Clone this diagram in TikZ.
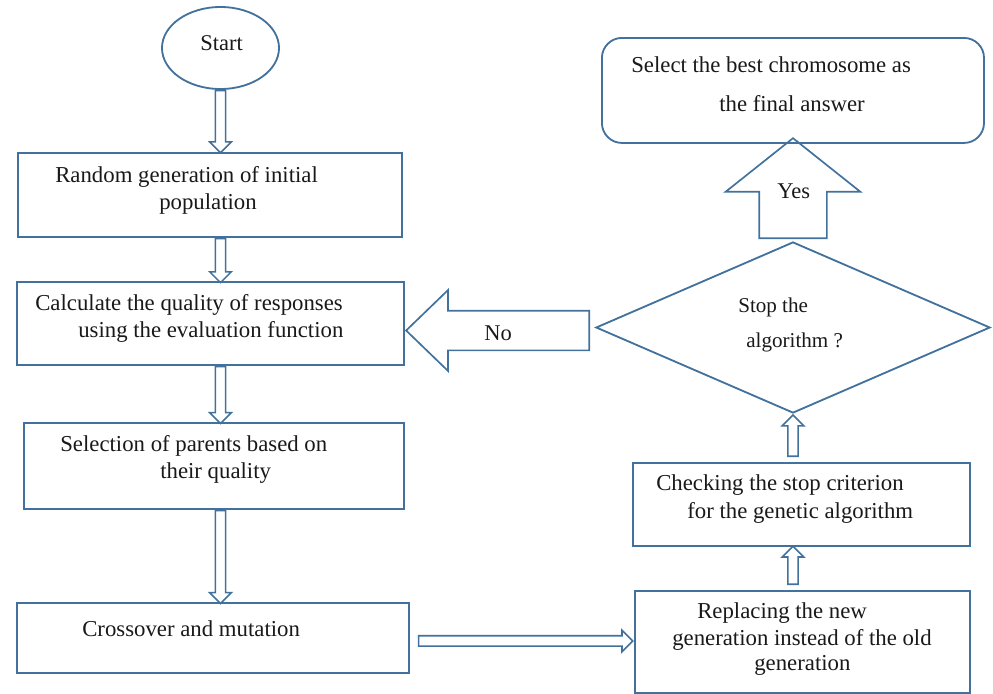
\documentclass[tikz,border=0pt]{standalone}
\usepackage{fontspec}
\setmainfont{Liberation Serif}
\usetikzlibrary{shapes.geometric,shapes.arrows,calc}
\definecolor{flow}{RGB}{65,113,156}
\tikzset{
	box/.style={draw=flow, line width=1.3pt, rectangle, inner sep=0pt, anchor=north west},
	txt/.style={anchor=base west, inner sep=0pt, text=black!90, font=\fontsize{16.2}{19}\selectfont},
	thinarr/.style={single arrow, draw=flow, line width=1.1pt, inner xsep=0pt, inner ysep=0.11cm, minimum width=0.5cm, single arrow head extend=0.14cm, anchor=tail},
	bigarr/.style={single arrow, draw=flow, line width=1.2pt, inner xsep=0pt, anchor=tail},
}
\begin{document}
\begin{tikzpicture}[x=0.025cm, y=-0.025cm]
		\useasboundingbox (0,0) rectangle (993,693);
		% left column
		\node[draw=flow, line width=1.3pt, ellipse, minimum width=2.925cm, minimum height=2.05cm, inner sep=0pt] (start) at (220.5,48) {};
		\node[box, minimum width=9.6cm, minimum height=2.1cm] (b1) at (17,152) {};
		\node[box, minimum width=9.675cm, minimum height=2.075cm] (b2) at (16,281) {};
		\node[box, minimum width=9.5cm, minimum height=2.15cm] (b3) at (23,422) {};
		\node[box, minimum width=9.8cm, minimum height=1.75cm] (b4) at (16,602) {};
		% right column
		\node[box, minimum width=8.375cm, minimum height=2.55cm] (b5) at (634,590) {};
		\node[box, minimum width=8.425cm, minimum height=2.075cm] (b6) at (632,462) {};
		\node[draw=flow, line width=1.3pt, diamond, minimum width=9.85cm, minimum height=4.275cm, inner sep=0pt] (stop) at (793,327.5) {};
		\node[box, rounded corners=0.5cm, minimum width=9.55cm, minimum height=2.625cm] (final) at (601,37) {};
		
		\node[txt, font=\fontsize{16}{19}\selectfont] (ts) at (200,50) {Start};
		\node[txt] (t1a) at (55,182) {Random generation of initial};
		\node[txt] (t1b) at (159,209) {population};
		\node[txt] (t2a) at (35,310) {Calculate the quality of responses};
		\node[txt] (t2b) at (78,337) {using the evaluation function};
		\node[txt] (t3a) at (60,451) {Selection of parents based on};
		\node[txt] (t3b) at (160,478) {their quality};
		\node[txt] (t4) at (82,636) {Crossover and mutation};
		\node[txt] (t5a) at (697,618) {Replacing the new};
		\node[txt] (t5b) at (672,645) {generation instead of the old};
		\node[txt] (t5c) at (754,670) {generation};
		\node[txt] (t6a) at (656,490) {Checking the stop criterion};
		\node[txt] (t6b) at (687,518) {for the genetic algorithm};
		\node[txt, font=\fontsize{15}{18}\selectfont] (tda) at (738,312) {Stop the};
		\node[txt, font=\fontsize{15}{18}\selectfont] (tdb) at (746,347) {algorithm ?};
		\node[txt] (tfa) at (631,72) {Select the best chromosome as};
		\node[txt] (tfb) at (719,111) {the final answer};
		
		% arrows
		\node[thinarr, rotate=-90, minimum height=1.55cm] (a1) at (start.south) {};
		\node[thinarr, rotate=-90, minimum height=1.1cm] (a2) at (b1.south -| start) {};
		\node[thinarr, rotate=-90, minimum height=1.42cm] (a3) at (b2.south -| start) {};
		\node[thinarr, rotate=-90, minimum height=2.32cm] (a4) at (b3.south -| start) {};
		\node[thinarr, minimum height=5.35cm] (a5) at ($(b4.east)+(8,3)$) {};
		\node[thinarr, rotate=90, minimum height=0.95cm] (a6) at ($(b5.north -| stop)+(0,-5)$) {};
		\node[thinarr, rotate=90, minimum height=1.03cm] (a7) at ($(b6.north -| stop)+(0,-5)$) {};
		\node[bigarr, rotate=90, minimum height=2.5cm, inner ysep=0.825cm, minimum width=3.325cm, single arrow head extend=0.8375cm, single arrow tip angle=103] (yes) at ($(stop.north)+(0,-2)$) {};
		\node[bigarr, rotate=180, minimum height=4.575cm, inner ysep=0.475cm, minimum width=1.975cm, single arrow head extend=0.5125cm, single arrow tip angle=88] (no) at ($(stop.west)+(-5,3)$) {};
		\node[txt, font=\fontsize{16}{19}\selectfont] at (777,198) {Yes};
		\node[txt, font=\fontsize{16}{19}\selectfont] at (484,340) {No};
		
	\end{tikzpicture}
\end{document}
